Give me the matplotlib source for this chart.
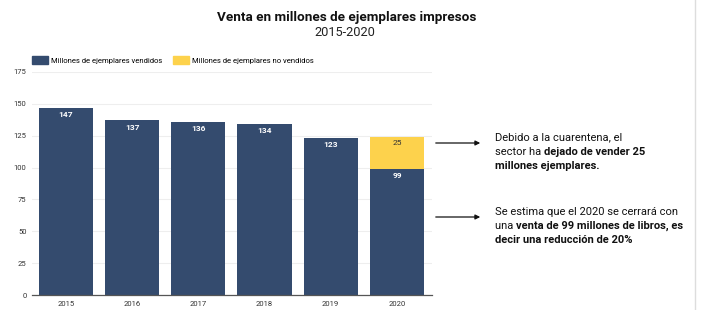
import matplotlib.pyplot as plt
from matplotlib.lines import Line2D
from matplotlib.patches import FancyArrowPatch, Rectangle

years = ['2015', '2016', '2017', '2018', '2019', '2020']
vendidos = [147, 137, 136, 134, 123, 99]
no_vendidos = [0, 0, 0, 0, 0, 25]

navy = '#344b6e'
yellow = '#fdd24c'

plt.rcParams['font.family'] = ['Roboto', 'DejaVu Sans']

fig = plt.figure(figsize=(7.01, 3.10), dpi=100)
ax = fig.add_axes([32 / 701, 15 / 310, 400 / 701, 223 / 310])

x = range(len(years))
ax.bar(x, vendidos, width=0.82, color=navy, zorder=2)
ax.bar(x, no_vendidos, width=0.82, bottom=vendidos, color=yellow, zorder=2)

for i, v in enumerate(vendidos):
    ax.text(i, v - 2.5, str(v), ha='center', va='top', color='white',
            fontsize=6, fontweight='bold', zorder=3)
for i, v in enumerate(no_vendidos):
    if v:
        ax.text(i, vendidos[i] + v - 2.5, str(v), ha='center', va='top',
                color='#333333', fontsize=6, zorder=3)

ax.set_xlim(-0.51, 5.53)
ax.set_ylim(0, 175)
ax.set_yticks(range(0, 176, 25))
ax.set_xticks(list(x))
ax.set_xticklabels(years)
ax.tick_params(axis='both', length=0, labelsize=5.5, colors='#333333', pad=4)
ax.yaxis.grid(True, color='#eeeeee', linewidth=0.8, zorder=0)
for s in ['top', 'right', 'left']:
    ax.spines[s].set_visible(False)
ax.spines['bottom'].set_color('#555555')
ax.spines['bottom'].set_linewidth(0.9)

# titulo
fig.text(347 / 701, 1 - 17 / 310, 'Venta en millones de ejemplares impresos',
         ha='center', va='center', fontsize=9.7, fontweight='bold', color='#111111')
fig.text(345 / 701, 1 - 33 / 310, '2015-2020', ha='center', va='center',
         fontsize=9.2, color='#222222')

# leyenda
fig.legend(handles=[Rectangle((0, 0), 1, 1, color=navy),
                    Rectangle((0, 0), 1, 1, color=yellow)],
           labels=['Millones de ejemplares vendidos', 'Millones de ejemplares no vendidos'],
           loc='center left', bbox_to_anchor=(32 / 701, 1 - 60 / 310), ncol=2,
           frameon=False, fontsize=5.5, handlelength=2.1, handleheight=1.05,
           handletextpad=0.4, columnspacing=1.4, borderaxespad=0, borderpad=0)

# flechas
for yy in [143, 217]:
    fig.add_artist(FancyArrowPatch(
        (433 / 701, 1 - yy / 310), (483 / 701, 1 - yy / 310),
        transform=fig.transFigure, arrowstyle='-|>', mutation_scale=7,
        color='#111111', linewidth=0.9))

# textos con negrita parcial
notas = [
    [(137, [('Debido a la cuarentena, el', 'normal')]),
     (152, [('sector ha ', 'normal'), ('dejado de vender 25', 'bold')]),
     (166, [('millones ejemplares.', 'bold')])],
    [(212, [('Se estima que el 2020 se cerrará con', 'normal')]),
     (226, [('una ', 'normal'), ('venta de 99 millones de libros, es', 'bold')]),
     (240, [('decir una reducción de 20%', 'bold')])],
]
fig.canvas.draw()
r = fig.canvas.get_renderer()
for bloque in notas:
    for yy, partes in bloque:
        xx = 495
        for txt, w in partes:
            t = fig.text(xx / 701, 1 - yy / 310, txt, ha='left', va='center',
                         fontsize=8, fontweight=w, color='#111111')
            xx = t.get_window_extent(renderer=r).x1

fig.add_artist(Line2D([695 / 701, 695 / 701], [0, 1], transform=fig.transFigure,
                      color='#dddddd', linewidth=1))

plt.savefig('out.png', dpi=100)
